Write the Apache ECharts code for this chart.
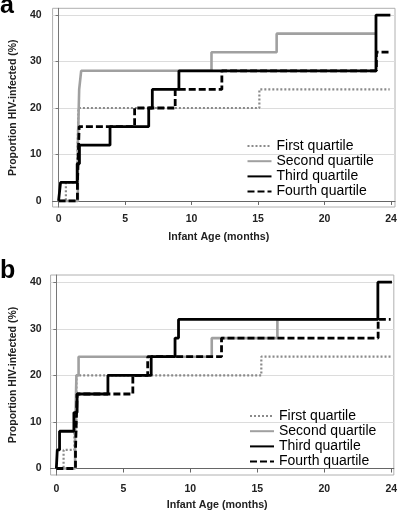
<!DOCTYPE html>
<html>
<head>
<meta charset="utf-8">
<script src="https://cdn.jsdelivr.net/npm/echarts@6/dist/echarts.min.js"></script>
<style>
html,body{margin:0;padding:0;background:#fff;}
#chart{width:400px;height:512px;}
</style>
</head>
<body>
<div id="chart"></div>
<script>
// ---- data ----
const seriesNames = ['First quartile', 'Second quartile', 'Third quartile', 'Fourth quartile'];
const panelLabels = ['a', 'b'];
const xTickValues = [0, 5, 10, 15, 20, 25];
const xTickLabels = ['0', '5', '10', '15', '20', '24'];
const yTickValues = [0, 10, 20, 30, 40];
const xAxisTitle = 'Infant Age (months)';
const yAxisTitle = 'Proportion HIV-infected (%)';

// panel a: [age (months), proportion infected (%)]
const aFirst  = [[0,0],[0.55,4],[1.4,8],[1.5,20],[15.1,24],[24.9,24]];
const aSecond = [[0,0],[1.45,12],[1.55,24],[1.7,28],[11.5,32],[16.4,36],[23.87,36]];
const aThird  = [[0,0],[0.15,4],[1.4,8],[1.57,12],[3.87,16],[6.78,20],[7.05,24],[9.05,28],[23.87,40],[24.95,40]];
const aFourth = [[0,0],[1.42,4],[1.55,16],[5.72,20],[8.77,24],[12.28,28],[23.9,32],[24.85,32]];

// panel b
const bFirst  = [[0,0],[0.54,4],[1.35,8],[1.5,20],[15.3,24],[25,24]];
const bSecond = [[0,0],[1.4,8],[1.5,20],[1.66,24],[11.6,28],[16.5,32],[24,32]];
const bThird  = [[0,0],[0.07,4],[0.24,8],[1.31,12],[1.55,16],[3.85,20],[7.08,24],[8.86,28],[9.12,32],[24,40],[25.05,40]];
const bFourth = [[0,0],[1.43,4],[1.55,16],[5.71,20],[6.82,24],[12.33,28],[24.02,32],[24.95,32]];

const panels = [[aFirst, aSecond, aThird, aFourth], [bFirst, bSecond, bThird, bFourth]];

// ---- styles ----
const lineStyles = [
  {color: '#8a8a8a', width: 2.2, type: [2, 2]},
  {color: '#a0a0a0', width: 2.6, type: 'solid'},
  {color: '#000000', width: 2.8, type: 'solid'},
  {color: '#000000', width: 2.8, type: [7, 3]}
];
const fontFam = '"Liberation Sans", Arial, sans-serif';

const grids = [
  {left: 38, top: 8.3, width: 357, height: 198.7},
  {left: 36, top: 275, width: 358.5, height: 203.3}
];
const xRanges = [[-0.45, 25.3], [-0.43, 25.19]];
const yRanges = [[-1.3, 41.45], [-1.39, 41.54]];
const labelMargins = [{x: 7, y: 11}, {x: 9, y: 9}];

const option = {
  backgroundColor: '#fff',
  animation: false,
  grid: grids.map(g => Object.assign({show: true, borderColor: '#b0b0b0', borderWidth: 1, backgroundColor: 'transparent'}, g)),
  xAxis: grids.map((g, i) => ({
    type: 'value', gridIndex: i, min: xRanges[i][0], max: xRanges[i][1],
    name: xAxisTitle, nameLocation: 'middle', nameGap: 25,
    nameTextStyle: {fontFamily: fontFam, fontWeight: 'bold', fontSize: 10.7, color: '#222', padding: [0, 10, 0, 0]},
    axisLine: {show: true, lineStyle: {color: '#666', width: 1}},
    axisTick: {show: true, customValues: xTickValues, length: 4, lineStyle: {color: '#666'}},
    axisLabel: {customValues: xTickValues, margin: labelMargins[i].x, fontFamily: fontFam, fontWeight: 'bold', fontSize: 10.5, color: '#222',
      formatter: v => xTickLabels[xTickValues.indexOf(v)]},
    splitLine: {show: false}
  })),
  yAxis: grids.map((g, i) => ({
    type: 'value', gridIndex: i, min: yRanges[i][0], max: yRanges[i][1],
    name: yAxisTitle, nameLocation: 'middle', nameGap: 27, nameRotate: 90,
    nameTextStyle: {fontFamily: fontFam, fontWeight: 'bold', fontSize: 10.5, color: '#222'},
    axisLine: {show: true, lineStyle: {color: '#777', width: 1}},
    axisTick: {show: true, customValues: yTickValues, length: 3, lineStyle: {color: '#777'}},
    axisLabel: {customValues: yTickValues, margin: labelMargins[i].y, fontFamily: fontFam, fontWeight: 'bold', fontSize: 10.5, color: '#222'},
    splitLine: {show: true, lineStyle: {color: '#dcdcdc', width: 1}}
  })),
  legend: [
    {left: 246.5, top: 138.4},
    {left: 249, top: 408.4}
  ].map(pos => Object.assign({
    orient: 'vertical', data: seriesNames, itemWidth: 24, itemHeight: 10, itemGap: 0, padding: 0,
    textStyle: {fontFamily: fontFam, fontSize: 14, color: '#000', lineHeight: 15.2},
    itemStyle: {opacity: 0}, selectedMode: false
  }, pos)),
  graphic: panelLabels.map((t, i) => ({
    type: 'text', left: 0, top: i === 0 ? -6 : 259,
    style: {text: t, font: 'bold 25px ' + fontFam, fill: '#000'}
  })),
  series: []
};

panels.forEach((pdata, pi) => {
  pdata.forEach((d, si) => {
    option.series.push({
      type: 'line', name: seriesNames[si], xAxisIndex: pi, yAxisIndex: pi,
      step: 'end', symbol: 'none', data: d,
      lineStyle: lineStyles[si], itemStyle: {color: lineStyles[si].color},
      z: 2 + si
    });
  });
});

const chart = echarts.init(document.getElementById('chart'), null, {renderer: 'canvas'});
chart.setOption(option);
</script>
</body>
</html>
